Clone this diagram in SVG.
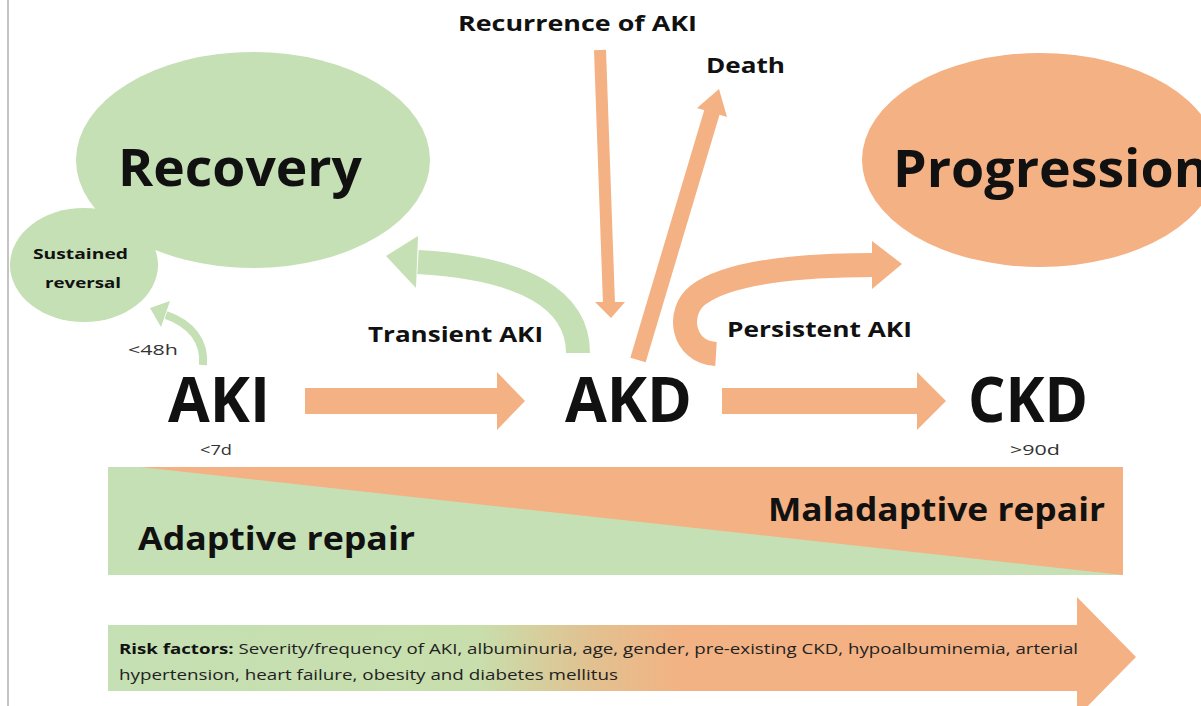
<svg xmlns="http://www.w3.org/2000/svg" width="1201" height="706" viewBox="0 0 1201 706">
<defs>
<style>
.b{font-family:"Open Sans","Liberation Sans",sans-serif;font-weight:700;fill:#111}
.r{font-family:"Open Sans","Liberation Sans",sans-serif;font-weight:400;fill:#333}
.g{fill:#C5E0B4}
.o{fill:#F4B183}
.gs{fill:none;stroke:#C5E0B4}
.os{fill:none;stroke:#F4B183}
</style>
<linearGradient id="rf" gradientUnits="userSpaceOnUse" x1="108" y1="0" x2="1136" y2="0">
<stop offset="0" stop-color="#C5E0B4"/>
<stop offset="0.36" stop-color="#C8DEAC"/>
<stop offset="0.47" stop-color="#E2C190"/>
<stop offset="0.56" stop-color="#F3B283"/>
<stop offset="1" stop-color="#F4B183"/>
</linearGradient>
</defs>
<rect width="1201" height="706" fill="#fff"/>
<line x1="8" y1="0" x2="8" y2="706" stroke="#c4c4c4" stroke-width="2"/>

<g id="recovery">
<ellipse class="g" cx="253" cy="160" rx="177" ry="108"/>
<text class="b" x="118" y="186" font-size="52" textLength="244" lengthAdjust="spacingAndGlyphs">Recovery</text>
</g>
<g id="sustained-reversal">
<ellipse class="g" cx="84" cy="265" rx="74" ry="57"/>
<text class="b" x="33" y="259" font-size="15" textLength="95" lengthAdjust="spacingAndGlyphs">Sustained</text>
<text class="b" x="45" y="288" font-size="15" textLength="76" lengthAdjust="spacingAndGlyphs">reversal</text>
</g>
<g id="progression">
<ellipse class="o" cx="1040" cy="160" rx="178" ry="107"/>
<text class="b" x="893" y="187" font-size="52" textLength="316" lengthAdjust="spacingAndGlyphs">Progression</text>
</g>
<g id="recurrence">
<text class="b" x="458" y="31" font-size="22" textLength="239" lengthAdjust="spacingAndGlyphs">Recurrence of AKI</text>
</g>
<g id="death">
<text class="b" x="706" y="73" font-size="22" textLength="79" lengthAdjust="spacingAndGlyphs">Death</text>
</g>
<g id="aki">
<text class="b" x="168" y="422" font-size="63" textLength="102" lengthAdjust="spacingAndGlyphs">AKI</text>
<text class="r" x="200" y="455" font-size="14" textLength="32" lengthAdjust="spacingAndGlyphs">&lt;7d</text>
</g>
<g id="akd">
<text class="b" x="565" y="422" font-size="63" textLength="127" lengthAdjust="spacingAndGlyphs">AKD</text>
</g>
<g id="ckd">
<text class="b" x="968" y="422" font-size="63" textLength="120" lengthAdjust="spacingAndGlyphs">CKD</text>
<text class="r" x="1010" y="455" font-size="14" textLength="50" lengthAdjust="spacingAndGlyphs">&gt;90d</text>
</g>

<g id="connectors">
<!-- AKI -> sustained reversal (<48h) -->
<path class="gs" stroke-width="8" d="M203 365 C205 342 192 324 166 315"/>
<polygon class="g" points="150,308 170,301 161,327"/>
<text class="r" x="128" y="355" font-size="15" textLength="50" lengthAdjust="spacingAndGlyphs">&lt;48h</text>
<!-- Transient AKI -->
<path class="gs" stroke-width="24" d="M578 353 C578 300 525 268 418 262"/>
<polygon class="g" points="386,256 418,236 416,288"/>
<text class="b" x="368" y="342" font-size="22" textLength="175" lengthAdjust="spacingAndGlyphs">Transient AKI</text>
<!-- Persistent AKI -->
<path class="os" stroke-width="24" d="M716 354 C682 352 676 312 698 295 C728 272 800 265 874 265"/>
<polygon class="o" points="902,264 872,241 872,289"/>
<text class="b" x="727" y="337" font-size="22" textLength="185" lengthAdjust="spacingAndGlyphs">Persistent AKI</text>
<!-- Recurrence of AKI -->
<line class="os" stroke-width="12" x1="600" y1="50" x2="609" y2="304"/>
<polygon class="o" points="595,302 625,302 611,318"/>
<!-- Death -->
<line class="os" stroke-width="16" x1="638" y1="360" x2="712" y2="112"/>
<polygon class="o" points="697,108 727,117 719,89"/>
<!-- AKI -> AKD -->
<rect class="o" x="305" y="388" width="194" height="26"/>
<polygon class="o" points="497,372 525,401 497,430"/>
<!-- AKD -> CKD -->
<rect class="o" x="722" y="388" width="197" height="26"/>
<polygon class="o" points="917,372 946,401 917,430"/>
</g>

<g id="repair-band">
<rect class="g" x="108" y="467" width="1015" height="108"/>
<polygon class="o" points="140,467 1123,467 1123,575"/>
<text class="b" x="768" y="521" font-size="33" textLength="337" lengthAdjust="spacingAndGlyphs">Maladaptive repair</text>
<text class="b" x="138" y="550" font-size="33" textLength="277" lengthAdjust="spacingAndGlyphs">Adaptive repair</text>
</g>

<g id="risk-factors">
<polygon fill="url(#rf)" points="108,625 1077,625 1077,597 1136,657 1077,717 1077,691 108,691"/>
<text x="119" y="654" font-size="14.5" textLength="959" lengthAdjust="spacingAndGlyphs" class="r" style="fill:#222"><tspan style="font-weight:700;fill:#111">Risk factors:</tspan> Severity/frequency of AKI, albuminuria, age, gender, pre-existing CKD, hypoalbuminemia, arterial</text>
<text x="119" y="680" font-size="14.5" textLength="499" lengthAdjust="spacingAndGlyphs" class="r" style="fill:#222">hypertension, heart failure, obesity and diabetes mellitus</text>
</g>
</svg>
